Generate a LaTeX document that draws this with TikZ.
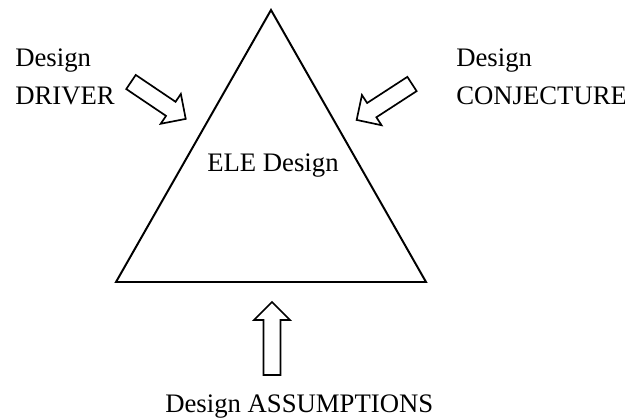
\documentclass[tikz,border=0pt]{standalone}
\usepackage{fontspec}
\setmainfont{Liberation Serif}

\begin{document}
\begin{tikzpicture}[x=0.025cm, y=0.025cm,
    every node/.style={inner sep=0pt, font=\fontsize{19}{23}\selectfont},
    word/.style={anchor=base west}]
    % Sizes of the block arrows
    \def\shaft{8.5}
    \def\head{18}
    \def\headlen{18}

    % Function to draw a hollow block arrow (tail, angle, length)
    \newcommand{\blockarrow}[3]{
        \draw[line width=1.2pt, shift={#1}, rotate=#2]
            (0,-\shaft) -- ({#3-\headlen},-\shaft) -- ({#3-\headlen},-\head)
            -- (#3,0) -- ({#3-\headlen},\head) -- ({#3-\headlen},\shaft)
            -- (0,\shaft) -- cycle;
    }

    \useasboundingbox (0,0) rectangle (625,420);

    % Draw the triangle
    \draw[line width=1.4pt, line join=miter] (271,410) -- (116,138) -- (426,138) -- cycle;
    \node[word] (ele) at (207,248) {ELE Design};

    % Draw the arrows pointing at the triangle
    \blockarrow{(131,338)}{-34}{66}
    \blockarrow{(412,336)}{213}{66}
    \blockarrow{(272,45)}{90}{73}

    % Labels for the three inputs
    \node[word] (driverA) at (15,353) {Design};
    \node[word] (driver) at (15,315) {DRIVER};
    \node[word] (conjA) at (456,353) {Design};
    \node[word] (conj) at (456,315) {CONJECTURE};
    \node[word] (assume) at (165,7) {Design ASSUMPTIONS};
\end{tikzpicture}
\end{document}
